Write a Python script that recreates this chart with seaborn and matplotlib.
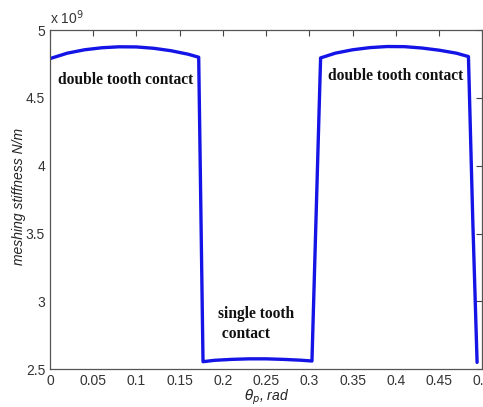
import matplotlib
matplotlib.use("Agg")
import matplotlib.pyplot as plt
import seaborn as sns

# mesh angle (rad) and meshing stiffness (x 1e9 N/m)
theta = [0.0, 0.02, 0.04, 0.06, 0.08, 0.10, 0.12, 0.14, 0.16, 0.172,
         0.177, 0.19, 0.21, 0.23, 0.25, 0.27, 0.29, 0.303,
         0.313, 0.33, 0.35, 0.37, 0.39, 0.41, 0.43, 0.45, 0.47, 0.484,
         0.489, 0.494]
stiffness = [4.79, 4.83, 4.855, 4.87, 4.877, 4.876, 4.866, 4.848, 4.822, 4.80,
             2.555, 2.565, 2.572, 2.576, 2.576, 2.572, 2.566, 2.56,
             4.795, 4.83, 4.855, 4.871, 4.879, 4.878, 4.868, 4.852, 4.83, 4.805,
             3.6, 2.55]

x_ticks = [0, 0.05, 0.1, 0.15, 0.2, 0.25, 0.3, 0.35, 0.4, 0.45, 0.5]
x_labels = ["0", "0.05", "0.1", "0.15", "0.2", "0.25", "0.3", "0.35", "0.4", "0.45", "0.5"]
y_ticks = [2.5, 3, 3.5, 4, 4.5, 5]
y_labels = ["2.5", "3", "3.5", "4", "4.5", "5"]

sns.set_theme(style="white")
plt.rcParams["font.family"] = ["Liberation Sans", "DejaVu Sans"]

fig = plt.figure(figsize=(4.83, 4.07), dpi=100)
ax = fig.add_axes([0.1035, 0.093, 0.895, 0.833])

sns.lineplot(x=theta, y=stiffness, sort=False, estimator=None,
             color="#1414e6", linewidth=2.4, ax=ax)

ax.set_xlim(0, 0.5)
ax.set_ylim(2.5, 5)
ax.set_xticks(x_ticks)
ax.set_xticklabels(x_labels)
ax.set_yticks(y_ticks)
ax.set_yticklabels(y_labels)
ax.tick_params(direction="in", length=4, width=0.8, colors="#444444",
               labelsize=10, top=True, right=True, labelcolor="#333333")
for s in ax.spines.values():
    s.set_color("#555555")
    s.set_linewidth(0.9)

ax.set_ylabel("meshing stiffness N/m", fontstyle="italic", fontsize=10,
              color="#222222")
ax.yaxis.set_label_coords(-0.055, 0.51)
ax.set_xlabel(r"$\theta_p$, rad", fontstyle="italic", fontsize=10,
              color="#222222", labelpad=0)
ax.text(0.0, 1.01, r"x 10$^9$", transform=ax.transAxes, fontsize=10,
        color="#333333", va="bottom", ha="left")

serif = ["Liberation Serif", "DejaVu Serif"]
ax.text(0.087, 4.63, "double tooth contact", family=serif, fontweight="bold",
        fontsize=11.2, ha="center", va="center", color="#111111")
ax.text(0.40, 4.665, "double tooth contact", family=serif, fontweight="bold",
        fontsize=11.2, ha="center", va="center", color="#111111")
ax.text(0.194, 2.83, "single tooth\n contact", family=serif, fontweight="bold",
        fontsize=11.2, ha="left", va="center", color="#111111",
        multialignment="left", linespacing=1.35)

fig.savefig("out.png", dpi=100)
